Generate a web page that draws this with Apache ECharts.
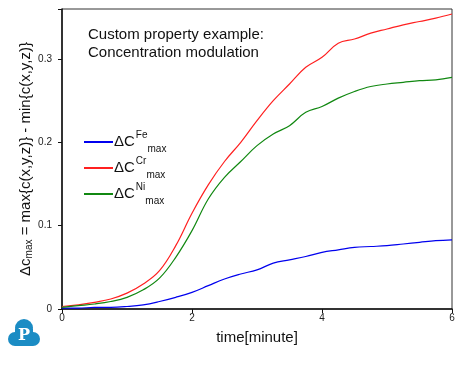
<!DOCTYPE html>
<html>
<head>
<meta charset="utf-8">
<script src="https://cdn.jsdelivr.net/npm/echarts@6/dist/echarts.min.js"></script>
<style>html,body{margin:0;padding:0;background:#fff}#c{width:469px;height:365px}</style>
</head>
<body>
<div id="c"></div>
<script>
var timeMin = [0, 0.25, 0.5, 0.75, 1.0, 1.25, 1.5, 1.75, 2.0, 2.25, 2.5, 2.75, 3.0, 3.25, 3.5, 3.75, 4.0, 4.25, 4.5, 4.75, 5.0, 5.25, 5.5, 5.75, 6.0];
var dcFe = [0.001, 0.001, 0.002, 0.002, 0.003, 0.005, 0.009, 0.014, 0.020, 0.028, 0.036, 0.042, 0.047, 0.055, 0.059, 0.063, 0.068, 0.071, 0.074, 0.075, 0.076, 0.078, 0.080, 0.082, 0.083];
var dcCr = [0.003, 0.005, 0.008, 0.012, 0.019, 0.030, 0.046, 0.076, 0.115, 0.149, 0.177, 0.200, 0.226, 0.250, 0.270, 0.290, 0.302, 0.319, 0.324, 0.331, 0.336, 0.341, 0.345, 0.349, 0.354];
var dcNi = [0.002, 0.004, 0.006, 0.009, 0.014, 0.023, 0.037, 0.062, 0.094, 0.132, 0.158, 0.177, 0.196, 0.210, 0.220, 0.236, 0.243, 0.253, 0.261, 0.267, 0.270, 0.272, 0.274, 0.275, 0.278];
var seriesNames = ['Fe', 'Cr', 'Ni'];
var xTicks = [0, 2, 4, 6];
var yTicks = [0, 0.1, 0.2, 0.3];

function pairs(ys) { return timeMin.map(function (t, i) { return [t, ys[i]]; }); }

var font = 'Liberation Sans, Arial, sans-serif';
var chart = echarts.init(document.getElementById('c'), null, {renderer: 'canvas'});
var legendRich = {
  d: {fontSize: 15, fontFamily: font, color: '#111', height: 24, lineHeight: 24, verticalAlign: 'middle'},
  sup: {fontSize: 10, fontFamily: font, color: '#111', verticalAlign: 'top', lineHeight: 12, padding: [0, 0, 0, 1]},
  sub: {fontSize: 10, fontFamily: font, color: '#111', verticalAlign: 'bottom', lineHeight: 12}
};
chart.setOption({
  animation: false,
  backgroundColor: '#fff',
  grid: {left: 62, top: 9, right: 17, bottom: 56, show: true, borderColor: '#333', borderWidth: 1},
  title: {
    text: 'Custom property example:\nConcentration modulation',
    left: 83, top: 21,
    textStyle: {fontFamily: font, fontSize: 15, fontWeight: 'normal', color: '#111', lineHeight: 18}
  },
  legend: {
    orient: 'vertical', left: 84, top: 130, itemGap: 2, padding: 0,
    itemWidth: 29, itemHeight: 2, icon: 'rect',
    data: seriesNames,
    formatter: function (n) { return '{d|\u0394C}{sup|' + n + '}{sub|max}'; },
    textStyle: {rich: legendRich, padding: [0, 0, 0, -4]}
  },
  xAxis: {
    type: 'value', min: 0, max: 6, interval: 2,
    name: 'time[minute]', nameLocation: 'middle', nameGap: 21,
    nameTextStyle: {fontFamily: font, fontSize: 15, color: '#111'},
    axisLine: {lineStyle: {color: '#111', width: 1.5}},
    axisTick: {length: 4, lineStyle: {color: '#111'}},
    axisLabel: {fontFamily: font, fontSize: 10, color: '#222', margin: 4,
      formatter: function (v) { return xTicks.indexOf(v) >= 0 ? String(v) : ''; }},
    splitLine: {show: false}
  },
  yAxis: {
    type: 'value', min: 0, max: 0.36, interval: 0.1,
    name: '{d|\u0394c}{sub|max} = max{c(x,y,z)} - min{c(x,y,z)}',
    nameLocation: 'middle', nameGap: 28, nameRotate: 90, nameMoveOverlap: false,
    nameTextStyle: {fontFamily: font, fontSize: 15, color: '#111',
      rich: {d: {fontFamily: font, fontSize: 15, color: '#111'}, sub: {fontFamily: font, fontSize: 10, color: '#111', verticalAlign: 'bottom', padding: [6, 0, 0, 0]}}},
    axisLine: {show: true, lineStyle: {color: '#111', width: 1.5}},
    axisTick: {length: 4, inside: false, lineStyle: {color: '#111'}},
    axisLabel: {fontFamily: font, fontSize: 10, color: '#222', margin: 10,
      formatter: function (v) { var r = Math.round(v * 10) / 10; return yTicks.indexOf(r) >= 0 ? (r === 0 ? '0' : r.toFixed(1)) : ''; }},
    splitLine: {show: false}
  },
  series: [
    {name: 'Fe', type: 'line', data: pairs(dcFe), showSymbol: false, smooth: 0.4, color: '#0000ee', lineStyle: {width: 1.2}},
    {name: 'Cr', type: 'line', data: pairs(dcCr), showSymbol: false, smooth: 0.4, color: '#ff2020', lineStyle: {width: 1.2}},
    {name: 'Ni', type: 'line', data: pairs(dcNi), showSymbol: false, smooth: 0.4, color: '#118811', lineStyle: {width: 1.2}}
  ],
  graphic: [
    {type: 'group', left: 8, top: 319, children: [
      {type: 'circle', shape: {cx: 16, cy: 9, r: 9}, style: {fill: '#1b8cc4'}},
      {type: 'circle', shape: {cx: 7, cy: 20, r: 7}, style: {fill: '#1b8cc4'}},
      {type: 'circle', shape: {cx: 25, cy: 20, r: 7}, style: {fill: '#1b8cc4'}},
      {type: 'rect', shape: {x: 7, y: 10, width: 18, height: 17}, style: {fill: '#1b8cc4'}},
      {type: 'text', style: {text: 'P', x: 16, y: 17, fill: '#fff', font: 'bold 16px "DejaVu Serif", serif', align: 'center', verticalAlign: 'middle'}}
    ]}
  ]
});
</script>
</body>
</html>
